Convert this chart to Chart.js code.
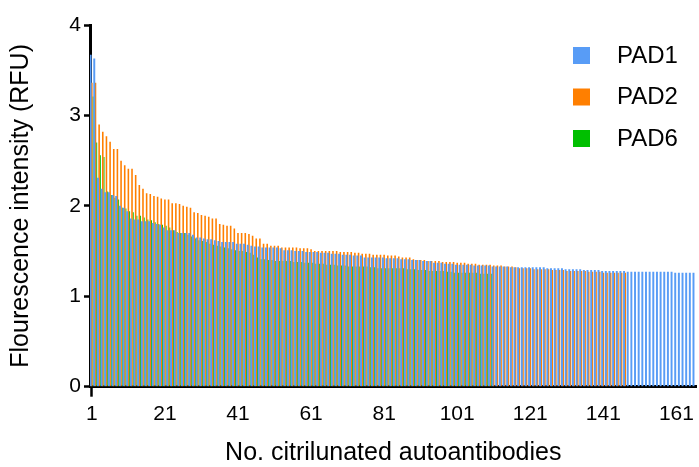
<!DOCTYPE html>
<html>
<head>
<meta charset="utf-8">
<script src="https://cdn.jsdelivr.net/npm/chart.js@4/dist/chart.umd.min.js"></script>
<style>
  html, body { margin: 0; padding: 0; background: #ffffff; }
  #c { display: block; }
</style>
</head>
<body>
<canvas id="c" width="699" height="467"></canvas>
<script>
// ---- data ----
const seriesNames = ['PAD1', 'PAD2', 'PAD6'];
const seriesColors = ['#589CF6', '#FF7F00', '#00BF00'];

const pad1 = [
  3.67,3.63,2.31,2.19,2.15,2.15,2.12,2.11,2.00,1.98,
  1.94,1.86,1.85,1.85,1.83,1.83,1.83,1.81,1.80,1.79,
  1.76,1.73,1.73,1.73,1.70,1.70,1.70,1.70,1.68,1.65,
  1.65,1.64,1.63,1.63,1.62,1.61,1.60,1.60,1.60,1.60,
  1.58,1.58,1.58,1.57,1.56,1.55,1.55,1.54,1.54,1.54,
  1.54,1.54,1.53,1.51,1.51,1.51,1.50,1.50,1.50,1.49,
  1.49,1.49,1.49,1.48,1.48,1.48,1.47,1.47,1.47,1.46,
  1.46,1.46,1.45,1.45,1.45,1.43,1.43,1.43,1.43,1.43,
  1.43,1.42,1.42,1.42,1.42,1.41,1.41,1.41,1.40,1.40,
  1.40,1.39,1.39,1.39,1.37,1.37,1.37,1.36,1.36,1.36,
  1.35,1.35,1.35,1.35,1.35,1.34,1.34,1.34,1.34,1.34,
  1.33,1.33,1.33,1.33,1.33,1.32,1.32,1.32,1.32,1.32,
  1.32,1.32,1.32,1.32,1.32,1.31,1.31,1.31,1.31,1.31,
  1.30,1.30,1.30,1.30,1.30,1.29,1.29,1.29,1.29,1.29,
  1.28,1.28,1.28,1.28,1.28,1.28,1.28,1.27,1.27,1.27,
  1.27,1.27,1.27,1.27,1.27,1.27,1.27,1.27,1.27,1.27,
  1.26,1.26,1.26,1.26,1.26,1.26
];

const pad2 = [
  3.36,3.36,2.90,2.82,2.77,2.71,2.63,2.63,2.50,2.45,
  2.41,2.41,2.34,2.23,2.19,2.14,2.13,2.11,2.10,2.08,
  2.07,2.07,2.03,2.03,2.02,2.00,1.99,1.98,1.93,1.92,
  1.90,1.89,1.88,1.86,1.86,1.80,1.79,1.78,1.78,1.75,
  1.70,1.70,1.70,1.69,1.67,1.64,1.64,1.58,1.58,1.56,
  1.56,1.56,1.54,1.54,1.54,1.54,1.54,1.53,1.53,1.53,
  1.52,1.50,1.50,1.50,1.50,1.50,1.50,1.50,1.49,1.49,
  1.49,1.49,1.48,1.48,1.47,1.47,1.47,1.46,1.46,1.46,
  1.46,1.45,1.45,1.45,1.44,1.43,1.43,1.43,1.41,1.40,
  1.40,1.40,1.39,1.39,1.39,1.39,1.38,1.38,1.38,1.38,
  1.37,1.37,1.37,1.36,1.36,1.36,1.35,1.35,1.35,1.35,
  1.34,1.34,1.34,1.33,1.33,1.33,1.32,1.31,1.31,1.31,
  1.31,1.30,1.30,1.30,1.30,1.30,1.29,1.29,1.29,1.29,
  1.28,1.28,1.28,1.28,1.28,1.28,1.27,1.27,1.27,1.27,
  1.26,1.26,1.26,1.26,1.26,1.26,1.26
];

const pad6 = [
  3.21,2.70,2.56,2.54,2.16,2.12,2.09,2.07,1.98,1.97,
  1.94,1.93,1.89,1.89,1.87,1.85,1.84,1.82,1.80,1.79,
  1.78,1.76,1.73,1.71,1.70,1.70,1.68,1.66,1.64,1.62,
  1.61,1.60,1.58,1.57,1.56,1.55,1.54,1.53,1.52,1.51,
  1.50,1.50,1.49,1.48,1.46,1.43,1.41,1.41,1.40,1.40,
  1.39,1.39,1.39,1.39,1.39,1.38,1.38,1.38,1.37,1.37,
  1.37,1.36,1.36,1.36,1.35,1.35,1.35,1.34,1.34,1.34,
  1.33,1.33,1.33,1.33,1.33,1.33,1.32,1.32,1.31,1.31,
  1.31,1.31,1.31,1.31,1.31,1.31,1.30,1.30,1.30,1.29,
  1.29,1.29,1.28,1.28,1.28,1.28,1.28,1.27,1.27,1.26,
  1.26,1.26,1.26,1.26,1.26,1.26,1.25,1.25,1.25,1.25
];

// categories 1..N (rank of autoantibody)
const categories = pad1.map((_, i) => String(i + 1));
const xTickLabels = ['1','21','41','61','81','101','121','141','161'];
const yTickValues = [0, 1, 2, 3, 4];

const xTitle = 'No. citrilunated autoantibodies';
const yTitle = 'Flourescence intensity (RFU)';

// ---- chart ----
const FONT = '"Liberation Sans", Arial, Helvetica, sans-serif';

const sideLegend = {
  id: 'sideLegend',
  afterDraw(chart) {
    const ctx = chart.ctx;
    ctx.save();
    chart.data.datasets.forEach((ds, i) => {
      const top = 47 + i * 41.5;
      ctx.fillStyle = ds.backgroundColor;
      ctx.fillRect(573, top, 17, 17);
      ctx.fillStyle = '#000000';
      ctx.font = '24px ' + FONT;
      ctx.textAlign = 'left';
      ctx.textBaseline = 'middle';
      ctx.fillText(ds.label, 617, top + 9);
    });
    ctx.restore();
  }
};

const seriesData = [pad1, pad2, pad6];
const barPct = [1.6, 1.3, 0.8];

new Chart(document.getElementById('c'), {
  type: 'bar',
  data: {
    labels: categories,
    datasets: seriesNames.map((name, i) => ({
      label: name,
      data: seriesData[i],
      backgroundColor: seriesColors[i],
      borderWidth: 0,
      inflateAmount: 0,
      categoryPercentage: 1.0,
      barPercentage: barPct[i]
    }))
  },
  options: {
    responsive: false,
    animation: false,
    devicePixelRatio: 1,
    layout: { padding: { top: 25, right: 1.4, left: 0, bottom: 0 } },
    plugins: {
      legend: { display: false },
      tooltip: { enabled: false },
      title: { display: false }
    },
    scales: {
      x: {
        type: 'category',
        offset: true,
        afterFit(scale) { scale.height = 80.3; },
        border: { display: true, color: '#000000', width: 3 },
        grid: {
          offset: false,
          drawOnChartArea: false,
          drawTicks: true,
          tickLength: 10,
          tickWidth: 2.5,
          tickColor: (ctx) => {
            const lbl = categories[ctx.index];
            return xTickLabels.includes(lbl) ? '#000000' : 'rgba(0,0,0,0)';
          }
        },
        ticks: {
          autoSkip: false,
          maxRotation: 0,
          minRotation: 0,
          padding: 5,
          color: '#000000',
          font: { family: FONT, size: 21 },
          callback: function (value) {
            const lbl = this.getLabelForValue(value);
            return xTickLabels.includes(lbl) ? lbl : null;
          }
        },
        title: {
          display: true,
          text: xTitle,
          color: '#000000',
          font: { family: FONT, size: 25, lineHeight: 1 },
          padding: { top: 0, bottom: 1 }
        }
      },
      y: {
        min: 0,
        max: 4,
        afterFit(scale) { scale.width = 90; },
        afterBuildTicks(scale) { scale.ticks = yTickValues.map(v => ({ value: v })); },
        border: { display: true, color: '#000000', width: 3 },
        grid: {
          drawOnChartArea: false,
          drawTicks: true,
          tickLength: 6,
          tickWidth: 2.5,
          tickColor: '#000000'
        },
        ticks: {
          stepSize: 1,
          padding: 3,
          color: '#000000',
          font: { family: FONT, size: 21 }
        },
        title: {
          display: true,
          text: yTitle,
          color: '#000000',
          font: { family: FONT, size: 25, lineHeight: 1 },
          padding: { top: 8.5, bottom: 0 }
        }
      }
    }
  },
  plugins: [sideLegend]
});
</script>
</body>
</html>
